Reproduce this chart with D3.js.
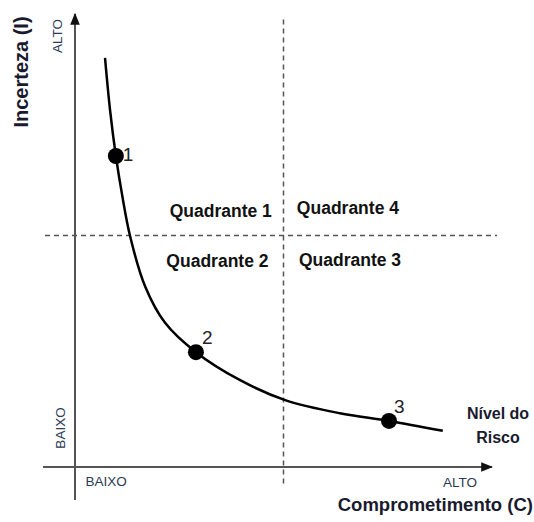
<!DOCTYPE html>
<html>
<head>
<meta charset="utf-8">
<script src="https://cdn.jsdelivr.net/npm/d3@7"></script>
<style>
  body { margin: 0; background: #fff; }
  svg { display: block; font-family: Arial, "Liberation Sans", sans-serif; }
</style>
</head>
<body>
<svg id="chart"></svg>
<script>
// Risk curve (x = Comprometimento, y = Incerteza, 0..10)
const curveX = [0.72, 0.84, 0.98, 1.13, 1.32, 1.68, 2.16, 2.90, 3.96, 5.04, 6.35, 7.53, 8.82];
const curveY = [9.05, 7.90, 6.88, 6.02, 5.11, 4.00, 3.19, 2.54, 1.92, 1.48, 1.19, 1.02, 0.80];

const pointLabels = ["1", "2", "3"];
const pointX = [0.98, 2.90, 7.53];
const pointY = [6.88, 2.54, 1.02];

const quadNames = ["Quadrante 1", "Quadrante 4", "Quadrante 2", "Quadrante 3"];
const quadX = [4.72, 5.32, 4.64, 5.37];
const quadY = [5.53, 5.60, 4.42, 4.45];

const splitX = 5.0;   // vertical dashed divider
const splitY = 5.12;  // horizontal dashed divider

const width = 534, height = 522;
const svg = d3.select("#chart").attr("width", width).attr("height", height);

const x = d3.scaleLinear().domain([0, 10]).range([75, 492]);
const y = d3.scaleLinear().domain([0, 10]).range([467, 15]);

const axisColor = "#555";
const textColor = "#1a1a2e";

// arrow head
svg.append("defs").append("marker")
  .attr("id", "arrow")
  .attr("viewBox", "0 0 10 10")
  .attr("refX", 9).attr("refY", 5)
  .attr("markerWidth", 6).attr("markerHeight", 6)
  .attr("markerUnits", "strokeWidth")
  .attr("orient", "auto")
  .append("path")
  .attr("d", "M0,1 L10,5 L0,9 Z")
  .attr("fill", "#111");

// dashed dividers
svg.append("line")
  .attr("x1", x(splitX)).attr("x2", x(splitX))
  .attr("y1", y(9.9)).attr("y2", 485)
  .attr("stroke", axisColor).attr("stroke-width", 1.5)
  .attr("stroke-dasharray", "5,4");

svg.append("line")
  .attr("x1", 45).attr("x2", 497)
  .attr("y1", y(splitY)).attr("y2", y(splitY))
  .attr("stroke", axisColor).attr("stroke-width", 1.5)
  .attr("stroke-dasharray", "5,4");

// axes
svg.append("line")
  .attr("x1", x(0)).attr("x2", x(0))
  .attr("y1", 500).attr("y2", 14)
  .attr("stroke", axisColor).attr("stroke-width", 2)
  .attr("marker-end", "url(#arrow)");

svg.append("line")
  .attr("x1", 43).attr("x2", x(10))
  .attr("y1", y(0)).attr("y2", y(0))
  .attr("stroke", axisColor).attr("stroke-width", 2)
  .attr("marker-end", "url(#arrow)");

// risk curve
const line = d3.line()
  .x(d => x(d[0]))
  .y(d => y(d[1]))
  .curve(d3.curveCatmullRom.alpha(0.5));

svg.append("path")
  .datum(d3.zip(curveX, curveY))
  .attr("d", line)
  .attr("fill", "none")
  .attr("stroke", "#000")
  .attr("stroke-width", 2.5);

// points
const pts = d3.zip(pointX, pointY, pointLabels);
svg.selectAll("circle.pt").data(pts).join("circle")
  .attr("class", "pt")
  .attr("cx", d => x(d[0]))
  .attr("cy", d => y(d[1]))
  .attr("r", 8)
  .attr("fill", "#000");

const labelOffsets = [[7, 5], [6, -8], [5, -8]];
svg.selectAll("text.pt").data(pts).join("text")
  .attr("class", "pt")
  .attr("x", (d, i) => x(d[0]) + labelOffsets[i][0])
  .attr("y", (d, i) => y(d[1]) + labelOffsets[i][1])
  .attr("font-size", 19)
  .attr("fill", "#222")
  .text(d => d[2]);

// quadrant labels
svg.selectAll("text.quad").data(d3.zip(quadX, quadY, quadNames)).join("text")
  .attr("class", "quad")
  .attr("x", d => x(d[0]))
  .attr("y", d => y(d[1]))
  .attr("text-anchor", (d, i) => i % 2 === 0 ? "end" : "start")
  .attr("font-size", 17.5)
  .attr("font-weight", "bold")
  .attr("fill", "#111")
  .text(d => d[2]);

// axis end labels
const smallLabels = [
  { t: "ALTO", tr: "translate(62,36) rotate(-90)" },
  { t: "BAIXO", tr: "translate(65,428) rotate(-90)" },
  { t: "BAIXO", tr: "translate(106,486)" },
  { t: "ALTO", tr: "translate(460,487)" }
];
svg.selectAll("text.small").data(smallLabels).join("text")
  .attr("class", "small")
  .attr("transform", d => d.tr)
  .attr("text-anchor", "middle")
  .attr("font-size", 13.5)
  .attr("fill", "#2b3a55")
  .text(d => d.t);

// axis titles
svg.append("text")
  .attr("transform", `translate(28,72) rotate(-90)`)
  .attr("text-anchor", "middle")
  .attr("font-size", 20)
  .attr("font-weight", "bold")
  .attr("fill", textColor)
  .text("Incerteza (I)");

svg.append("text")
  .attr("x", 533).attr("y", 511)
  .attr("text-anchor", "end")
  .attr("font-size", 18.5)
  .attr("font-weight", "bold")
  .attr("fill", textColor)
  .text("Comprometimento (C)");

// curve name
const riskLabel = svg.append("text")
  .attr("text-anchor", "middle")
  .attr("font-size", 16)
  .attr("font-weight", "bold")
  .attr("fill", textColor);
riskLabel.append("tspan").attr("x", 498).attr("y", 419).text("Nível do");
riskLabel.append("tspan").attr("x", 498).attr("y", 443).text("Risco");
</script>
</body>
</html>
